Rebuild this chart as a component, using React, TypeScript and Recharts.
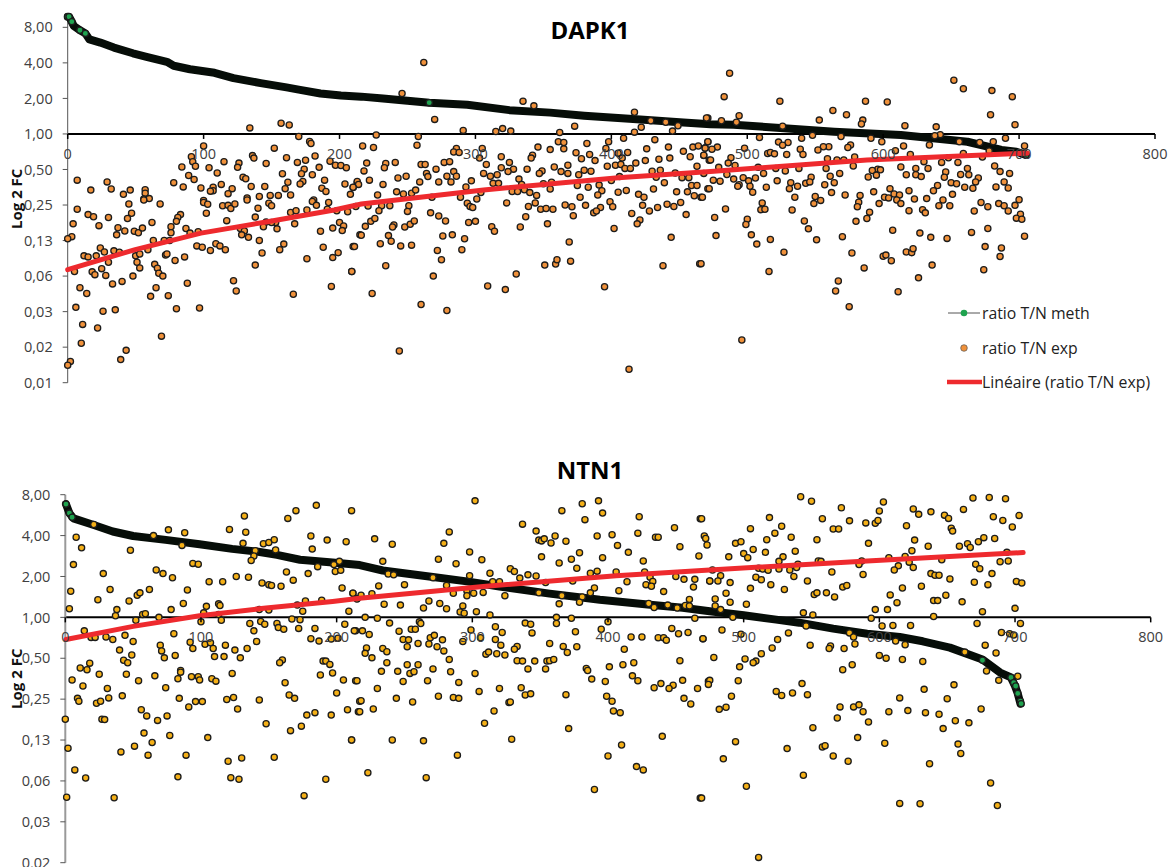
import React from "react";
import { ScatterChart, Scatter, XAxis, YAxis, ReferenceLine, Legend } from "recharts";

// All y values are log2(fold change); x is the gene rank.
type P = [number, number];

const xTicks = [0, 100, 200, 300, 400, 500, 600, 700, 800];
const yTicksTop = [-7, -6, -5, -4, -3, -2, -1, 0, 1, 2, 3];
const yTicksBottom = [-6, -5, -4, -3, -2, -1, 0, 1, 2, 3];
const legendNames = ["ratio T/N meth", "ratio T/N exp", "Linéaire (ratio T/N exp)"];

const dapkMeth: P[] = [[0,3.3],[1,3.3],[3,3.16],[4.5,3.04],[9,2.92],[13,2.83],[16,2.66],[24,2.57],[34,2.43],[48,2.27],[58,2.17],[73,2.03],[78,1.92],[90,1.82],[108,1.72],[122,1.57],[142,1.43],[161,1.31],[171,1.24],[186,1.14],[201,1.08],[216,1.05],[232,1.0],[266,.88],[294,.82],[325,.67],[355,.6],[380,.515],[416,.42],[453,.32],[473,.27],[490,.26],[527,.16],[564,.065],[613,-.03],[662,-.22],[687,-.45],[698,-.5],[705,-.59]];
const dapkGreen: P[] = [[0,3.3],[1,3.3],[3,3.16],[9,2.92],[13,2.83],[266,.88],[705,-.59]];
const dapkTrend: P[] = [[0,-3.82],[49,-3.26],[98,-2.79],[147,-2.47],[196,-2.14],[216,-1.97],[306,-1.575],[405,-1.23],[473,-1.06],[588,-.73],[706,-.54]];
const dapkExpLeft: P[] = [[134,.17],[157,.30],[163,.25],[170,-.07],[178,-.21],[179,-.27],[100,-.34],[152,-.40],[91,-.64],[136,-.61],[137,-.68],[92,-.78],[161,-.67],[182,-.62],[115,-.78],[175,-.74],[169,-.80],[126,-.82],[146,-.83],[193,-.77],[197,-.88],[201,-.89],[205,-.95],[84,-.93],[94,-.91],[104,-.95],[125,-.94],[185,-.94],[174,-.99],[110,-1.10],[158,-1.12],[172,-1.12],[180,-1.15],[7,-1.30],[29,-1.35],[89,-1.17],[93,-1.28],[129,-1.22],[131,-1.26],[173,-1.34],[189,-1.30],[162,-1.36],[204,-1.41],[213,-1.37],[78,-1.37],[17,-1.58],[32,-1.55],[46,-1.58],[41,-1.70],[57,-1.57],[57,-1.67],[85,-1.49],[98,-1.52],[107,-1.50],[107,-1.60],[105,-1.61],[113,-1.42],[121,-1.54],[118,-1.68],[135,-1.48],[145,-1.48],[171,-1.41],[160,-1.54],[164,-1.72],[187,-1.53],[190,-1.62],[208,-1.70],[210,-1.51],[132,-1.80],[141,-1.76],[149,-1.73],[155,-1.73],[56,-1.83],[60,-1.82],[100,-1.87],[181,-1.86],
[7,-2.12],[15,-2.27],[19,-2.33],[30,-2.35],[45,-1.97],[47,-2.23],[44,-2.38],[56,-1.86],[68,-1.97],[83,-2.27],[81,-2.35],[80,-2.46],[76,-2.61],[100,-1.93],[103,-1.98],[102,-2.23],[114,-2.02],[118,-2.01],[120,-2.10],[123,-1.97],[117,-2.44],[132,-1.86],[140,-2.09],[138,-2.34],[148,-1.95],[150,-2.02],[146,-2.48],[153,-2.49],[150,-2.49],[144,-2.61],[154,-2.67],[164,-2.21],[168,-2.16],[167,-2.53],[176,-2.14],[180,-1.90],[183,-2.01],[192,-1.93],[191,-2.12],[198,-2.16],[200,-2.49],[206,-2.19],[203,-2.59],[202,-2.72],[195,-2.65],[186,-2.74],[212,-2.04],[215,-2.84],[4,-2.53],[3,-2.89],[0,-2.95],[23,-2.58],[37,-2.64],[36,-2.84],[42,-2.73],[49,-2.74],[52,-2.78],[55,-2.65],[62,-2.49],[63,-3.0],[71,-3.0],[75,-3.0],[76,-2.78],[87,-2.66],[90,-2.79],[96,-2.75],[127,-2.66],[130,-2.73],[128,-2.84],[133,-2.91],[141,-3.0],[95,-3.15],[99,-3.19],[105,-3.28],[109,-3.09],[112,-3.15],[116,-3.26],[159,-3.10],[156,-3.26],[143,-3.35],[188,-3.19],[199,-3.34],[195,-3.48],[210,-3.17],[24,-3.21],[12,-3.43],[15,-3.46],[21,-3.43],[27,-3.32],[34,-3.29],[38,-3.33],[50,-3.43],[53,-3.38],[59,-3.26],[51,-3.61],[53,-3.77],[30,-3.61],[25,-3.79],[18,-3.88],[20,-3.96],[28,-3.98],[5,-3.87],[33,-4.22],[40,-4.15],[48,-4.0],[64,-3.67],[66,-3.78],[67,-3.92],[70,-4.0],[72,-3.41],[73,-3.38],[79,-3.56],[86,-3.46],[88,-4.2],[65,-4.33],[61,-4.57],[74,-4.55],[80,-4.92],[97,-4.90],[9,-4.33],[14,-4.49],[6,-4.88],[26,-4.99],[35,-4.95],[11,-5.36],[22,-5.46],[10,-5.89],[2,-6.40],[0,-6.51],[39,-6.35],[43,-6.09],[69,-5.69],[122,-4.13],[124,-4.42],[138,-3.69],[176,-3.51],[166,-4.51],[194,-4.29],[209,-3.87]];
const dapkExpMiddle: P[] = [[262,2.01],[246,1.14],[335,.92],[343,.79],[270,.41],[417,.61],[373,.22],[422,.19],[429,.37],[440,.33],[449,.23],[471,.45],[291,.10],[315,.07],[320,.15],[326,.08],[362,.04],[417,.05],[445,.08],[227,-.03],[258,-.07],[257,-.32],[217,-.34],[225,-.38],[286,-.41],[284,-.51],[288,-.52],[305,-.41],[303,-.68],[346,-.37],[355,-.44],[361,-.22],[365,-.24],[365,-.42],[382,-.27],[398,-.22],[409,-.12],[432,-.16],[442,-.37],[453,-.49],[460,-.37],[464,-.34],[469,-.39],[471,-.22],[426,-.42],[396,-.41],[412,-.52],[405,-.54],[374,-.53],[384,-.58],[378,-.70],[388,-.75],[408,-.68],[425,-.75],[435,-.71],[443,-.68],[458,-.64],[468,-.61],[472,-.74],[342,-.60],[341,-.68],[319,-.64],[325,-.80],[308,-.86],[277,-.80],[281,-.78],[260,-.86],[263,-.86],[241,-.80],[234,-.83],[220,-.82],[233,-.95],[271,-.99],[218,-1.04],[284,-1.06],[319,-.95],[328,-.99],[338,-.99],[349,-1.04],[358,-.93],[368,-.88],[363,-1.06],[380,-1.02],[385,-1.05],[397,-.91],[403,-.88],[407,-.86],[418,-.82],[410,-.97],[414,-.97],[430,-1.05],[436,-1.02],[463,-.91],[264,-1.11],[265,-1.20],[243,-1.24],[249,-1.19],[279,-1.19],[286,-1.19],[282,-1.35],[273,-1.35],[259,-1.35],[222,-1.30],[213,-1.34],[214,-1.42],[210,-1.50],[232,-1.42],[297,-1.32],[293,-1.49],[306,-1.11],[311,-1.19],[316,-1.15],[324,-1.06],[332,-1.27],[347,-1.11],[368,-1.11],[376,-1.15],[406,-1.20],[400,-1.31],[433,-1.22],[439,-1.37],[447,-1.10],[452,-1.23],[457,-1.23],[313,-1.39],[317,-1.39],[334,-1.42],[350,-1.40],[356,-1.36],[375,-1.45],[383,-1.50],[391,-1.44],[431,-1.55],[459,-1.45],[463,-1.45],[471,-1.54],[242,-1.63],[228,-1.72],[247,-1.69],[253,-1.67],[256,-1.58],[289,-1.78],[268,-1.78],[304,-1.65],[327,-1.62],[331,-1.62],[336,-1.57],[340,-1.65],[355,-1.55],[345,-1.73],[377,-1.78],[393,-1.60],[390,-1.72],[405,-1.64],[411,-1.59],[420,-1.70],[424,-1.78],[448,-1.63],[456,-1.63],[461,-1.74],[466,-1.78],[221,-2.03],[231,-2.02],[237,-2.02],[251,-2.02],[229,-2.16],[250,-2.18],[294,-1.95],[296,-2.04],[298,-2.07],[301,-1.83],[323,-1.94],[344,-1.94],[339,-2.04],[348,-2.12],[352,-2.10],[357,-2.12],[366,-2.0],[371,-2.05],[381,-2.01],[392,-2.07],[399,-1.91],[401,-2.05],[387,-2.22],[389,-2.17],[372,-2.30],[337,-2.33],[267,-2.22],[273,-2.31],[278,-2.45],[415,-2.24],[423,-2.01],[428,-2.17],[434,-2.07],[441,-1.98],[446,-2.04],[451,-1.93],[455,-2.27],[421,-2.42],[419,-2.53],[353,-2.53],[333,-2.62],[312,-2.61],[314,-2.74],[295,-2.49],[300,-2.46],[223,-2.46],[226,-2.38],[219,-2.60],[216,-2.85],[240,-2.56],[239,-2.62],[248,-2.62],[252,-2.54],[255,-2.45],[236,-2.86],[238,-3.02],[230,-3.09],[245,-3.15],[253,-3.13],[211,-3.17],[276,-2.87],[283,-2.84],[292,-2.95],[290,-3.26],[272,-3.28],[275,-3.54],[402,-2.66],[444,-2.91],[369,-3.04],[370,-3.58],[359,-3.66],[360,-3.54],[351,-3.69],[438,-3.71],[465,-3.65],[234,-3.71],[209,-3.87],[269,-4.0],[330,-3.94],[309,-4.28],[322,-4.38],[395,-4.30],[224,-4.49],[260,-4.80],[279,-4.97],[244,-6.11],[413,-6.62]];
const dapkExpRight: P[] = [[487,1.71],[483,1.05],[524,.92],[652,1.51],[659,1.27],[680,1.22],[695,1.05],[587,.92],[603,.90],[563,.66],[573,.54],[679,.54],[553,.39],[585,.39],[584,.28],[494,.51],[470,.45],[481,.37],[492,.33],[697,.26],[616,.23],[639,.20],[526,.22],[642,-.02],[548,-.04],[569,-.07],[509,-.10],[540,-.12],[591,-.12],[638,-.05],[690,-.12],[599,-.22],[681,-.22],[656,-.22],[671,-.24],[704,-.34],[471,-.22],[523,-.23],[530,-.24],[526,-.32],[478,-.37],[474,-.43],[469,-.40],[498,-.40],[560,-.36],[556,-.36],[552,-.45],[539,-.43],[576,-.31],[574,-.38],[615,-.34],[609,-.47],[634,-.31],[468,-.60],[515,-.55],[517,-.52],[520,-.56],[529,-.58],[541,-.58],[620,-.58],[659,-.55],[678,-.48],[704,-.54],[488,-.67],[473,-.73],[579,-.65],[559,-.70],[566,-.73],[571,-.73],[673,-.65],[643,-.80],[648,-.67],[655,-.80],[630,-.78],[491,-.89],[486,-.82],[479,-.94],[508,-.94],[521,-.97],[538,-.97],[558,-.97],[578,-.90],[613,-.93],[624,-.97],[633,-.97],[662,-.97],[682,-.90],[686,-1.06],[693,-1.11],[528,-1.04],[512,-1.11],[468,-1.11],[485,-1.14],[497,-1.23],[506,-1.24],[568,-1.11],[561,-1.19],[547,-1.22],[596,-.99],[592,-1.03],[598,-1.01],[595,-1.16],[589,-1.21],[617,-1.15],[624,-1.15],[628,-1.20],[646,-1.07],[645,-1.22],[657,-1.14],[663,-1.15],[670,-1.24],[475,-1.30],[480,-1.33],[490,-1.27],[501,-1.32],[522,-1.32],[532,-1.37],[543,-1.39],[546,-1.35],[557,-1.43],[564,-1.37],[650,-1.37],[654,-1.40],[668,-1.35],[689,-1.35],[494,-1.43],[493,-1.47],[502,-1.47],[514,-1.50],[531,-1.54],[537,-1.47],[472,-1.54],[605,-1.54],[640,-1.45],[637,-1.60],[660,-1.50],[666,-1.53],[683,-1.49],[692,-1.52],[504,-1.64],[562,-1.65],[593,-1.63],[619,-1.60],[608,-1.69],[612,-1.72],[651,-1.70],[467,-1.78],[535,-1.78],[550,-1.76],[572,-1.72],[583,-1.73],[601,-1.78],[604,-1.80],[610,-1.86],[623,-1.83],[632,-1.82],[644,-1.86],[700,-1.85],[511,-1.94],[554,-1.87],[549,-1.96],[582,-1.92],[581,-2.05],[597,-1.96],[613,-1.96],[641,-2.02],[649,-2.02],[672,-1.93],[677,-2.05],[685,-1.96],[689,-2.02],[697,-2.01],[484,-2.11],[510,-2.13],[513,-2.12],[533,-2.14],[619,-2.16],[629,-2.13],[631,-2.22],[590,-2.20],[667,-2.17],[692,-2.17],[701,-2.26],[476,-2.35],[500,-2.40],[499,-2.55],[542,-2.45],[545,-2.67],[580,-2.46],[588,-2.38],[698,-2.37],[702,-2.40],[477,-2.86],[503,-2.84],[507,-3.10],[517,-2.97],[551,-2.98],[570,-2.89],[607,-2.71],[627,-2.79],[635,-2.91],[647,-2.94],[665,-2.77],[677,-2.66],[704,-2.88],[527,-3.33],[577,-3.35],[617,-3.32],[621,-3.34],[622,-3.23],[600,-3.44],[602,-3.41],[606,-3.57],[675,-3.17],[687,-3.21],[686,-3.45],[466,-3.65],[516,-3.87],[586,-3.77],[636,-3.69],[674,-3.82],[626,-4.05],[567,-4.14],[565,-4.42],[611,-4.44],[575,-4.86],[496,-5.80]];

const ntnMeth: P[] = [[.5,2.77],[3,2.55],[6,2.42],[21,2.26],[35,2.1],[50,1.99],[74,1.895],[99,1.79],[123,1.675],[141,1.61],[156,1.53],[173,1.41],[197,1.34],[217,1.28],[234,1.146],[271,.985],[296,.88],[320,.756],[357,.58],[394,.43],[431,.31],[455,.235],[475,.15],[500,.05],[524,-.056],[541,-.13],[566,-.275],[591,-.4],[615,-.48],[632,-.585],[652,-.74],[676,-1.03],[689,-1.35],[697,-1.47],[700,-1.68],[702,-1.86],[704,-2.11]];
const ntnGreen: P[] = [[.5,2.77],[3,2.55],[5,2.45],[676,-1.05],[697,-1.47],[699,-1.6],[700.5,-1.68],[702,-1.86],[704,-2.05],[704.5,-2.11]];
const ntnTrend: P[] = [[.5,-.54],[50,-.22],[99,.04],[148,.23],[197,.39],[217,.47],[308,.756],[406,1.017],[475,1.16],[591,1.38],[706,1.585]];
const ntnExpLeft: P[] = [[132,2.48],[185,2.74],[170,2.61],[164,2.42],[211,2.61],[121,2.15],[133,2.08],[76,2.14],[88,2.07],[65,2.0],[21,2.27],[8,1.96],[12,1.70],[48,1.64],[131,1.81],[146,1.80],[150,1.83],[154,1.90],[86,1.76],[181,1.99],[193,1.89],[207,1.85],[182,1.67],[155,1.65],[140,1.63],[139,1.50],[137,1.39],[6,1.29],[94,1.32],[98,1.30],[198,1.29],[202,1.37],[186,1.24],[67,1.16],[72,1.07],[28,1.07],[79,.97],[199,1.12],[203,1.15],[163,1.11],[179,1.07],[126,1.0],[135,.98],[168,.91],[106,.87],[116,.87],[145,.84],[150,.80],[152,.78],[159,.76],[4,.64],[33,.68],[62,.68],[90,.67],[204,.72],[212,.59],[24,.43],[47,.40],[53,.54],[55,.60],[87,.34],[113,.33],[114,.29],[104,.27],[177,.40],[189,.42],[215,.46],[171,.30],[3,.21],[38,.19],[78,.19],[143,.19],[150,.18],[175,.15],[209,.15],[37,.04],[57,.07],[59,.09],[69,0],[102,.11],[113,.07],[52,-.07],[100,-.11],[115,-.07],[167,-.04],[173,-.06],[144,-.10],[147,-.17],[136,-.15],[156,-.15],[157,-.25],[161,-.29],[172,-.27],[184,-.27],[206,-.17],[214,-.33],[14,-.33],[139,-.33],[80,-.40],[19,-.49],[22,-.49],[30,-.48],[35,-.54],[44,-.44],[181,-.52],[187,-.58],[196,-.53],[201,-.51],[50,-.59],[141,-.59],[92,-.61],[70,-.68],[103,-.66],[107,-.62],[118,-.68],[71,-.82],[94,-.76],[109,-.76],[125,-.80],[134,-.76],[40,-.80],[49,-.92],[73,-.99],[81,-.93],[110,-.96],[117,-.96],[129,-.99],[43,-1.05],[46,-1.11],[18,-1.12],[11,-1.24],[16,-1.28],[160,-1.04],[158,-1.11],[190,-1.07],[192,-1.07],[195,-1.15],[85,-1.30],
[25,-1.39],[5,-1.53],[13,-1.68],[31,-1.74],[32,-1.97],[45,-1.39],[54,-1.55],[66,-1.43],[74,-1.72],[83,-1.50],[85,-1.34],[93,-1.45],[98,-1.45],[99,-1.53],[108,-1.50],[111,-1.56],[123,-1.37],[162,-1.60],[188,-1.41],[197,-1.36],[205,-1.53],[214,-1.55],[200,-1.85],[165,-1.90],[169,-1.98],[42,-1.92],[84,-1.98],[119,-2.01],[124,-1.96],[143,-2.02],[9,-1.98],[10,-2.05],[23,-2.10],[26,-2.05],[96,-2.06],[101,-2.06],[217,-2.05],[91,-2.19],[127,-2.24],[56,-2.26],[60,-2.41],[68,-2.52],[75,-2.41],[208,-2.26],[216,-2.31],[196,-2.39],[184,-2.33],[178,-2.39],[0,-2.49],[27,-2.49],[29,-2.50],[148,-2.60],[174,-2.66],[166,-2.77],[58,-2.83],[77,-2.89],[64,-3.06],[105,-2.94],[211,-3.0],[2,-3.20],[41,-3.29],[51,-3.15],[61,-3.37],[89,-3.37],[130,-3.44],[120,-3.52],[154,-3.42],[7,-3.73],[15,-3.93],[83,-3.90],[122,-3.92],[128,-3.96],[192,-3.96],[1,-4.40],[36,-4.41],[176,-4.36]];
const ntnExpMiddle: P[] = [[302,2.85],[381,2.78],[393,2.85],[366,2.61],[396,2.55],[383,2.39],[423,2.46],[468,2.41],[337,2.28],[347,2.11],[283,2.09],[228,1.92],[241,1.79],[279,1.81],[349,1.89],[351,1.87],[353,1.92],[358,1.82],[361,1.99],[369,1.86],[392,1.99],[403,2.02],[407,1.76],[422,2.06],[435,1.96],[437,1.96],[449,2.19],[453,1.73],[471,1.99],[472,1.93],[473,1.77],[298,1.60],[415,1.59],[379,1.58],[467,1.50],[396,1.46],[351,1.48],[373,1.42],[275,1.42],[307,1.41],[234,1.37],[288,1.31],[364,1.33],[426,1.38],[377,1.20],[328,1.19],[331,1.12],[313,1.08],[238,1.06],[242,1.04],[341,1.04],[347,1.01],[387,1.08],[392,1.13],[406,1.11],[427,1.11],[298,1.02],[271,.97],[335,.96],[450,1.0],[456,.93],[464,.93],[431,.98],[354,.85],[315,.87],[320,.87],[374,.89],[414,.87],[433,.88],[475,.89],[231,.77],[250,.80],[281,.78],[428,.80],[432,.76],[463,.74],[390,.72],[408,.65],[441,.63],[387,.60],[212,.59],[286,.59],[296,.65],[301,.59],[308,.61],[349,.60],[218,.54],[226,.58],[296,.53],[324,.53],[366,.53],[215,.45],[381,.50],[460,.44],[268,.40],[276,.34],[235,.32],[247,.30],[264,.23],[281,.21],[293,.28],[364,.33],[379,.37],[430,.34],[444,.30],[434,.24],[451,.23],[457,.29],[460,.28],[291,.13],[294,.10],[303,.14],[313,.06],[221,0],[230,-.02],[362,0],[373,-.02],[464,-.02],[239,-.14],[261,-.11],[262,-.15],[339,-.14],[343,-.17],[362,-.15],[400,-.11],[317,-.23],[395,-.29],[447,-.27],[213,-.33],[219,-.33],[224,-.42],[246,-.34],[255,-.29],[258,-.29],[299,-.31],[322,-.37],[344,-.38],[376,-.35],[452,-.40],[459,-.37],[269,-.50],[272,-.44],[278,-.55],[249,-.54],[253,-.55],[306,-.50],[317,-.54],[417,-.48],[425,-.48],[437,-.50],[441,-.50],[443,-.56],[470,-.52],[293,-.59],[260,-.64],[268,-.65],[252,-.72],[274,-.72],[321,-.68],[357,-.64],[333,-.71],[331,-.78],[367,-.71],[377,-.72],[222,-.75],[234,-.76],[237,-.84],[221,-.88],[279,-.82],[370,-.86],[412,-.78],[310,-.90],[312,-.85],[318,-.89],[324,-.92],[226,-.99],[283,-1.03],[237,-1.11],[333,-1.06],[337,-1.07],[346,-1.07],[355,-1.07],[357,-1.06],[360,-1.03],[453,-1.06],[419,-1.11],[252,-1.16],[260,-1.16],[411,-1.16],[401,-1.21],[384,-1.25],[271,-1.26],
[233,-1.32],[245,-1.32],[254,-1.37],[257,-1.33],[284,-1.33],[302,-1.37],[341,-1.26],[354,-1.26],[385,-1.30],[418,-1.43],[215,-1.55],[249,-1.57],[267,-1.55],[290,-1.59],[388,-1.51],[398,-1.57],[422,-1.55],[439,-1.62],[448,-1.66],[445,-1.74],[455,-1.54],[474,-1.56],[434,-1.72],[466,-1.74],[230,-1.74],[305,-1.81],[320,-1.74],[336,-1.72],[339,-1.90],[343,-1.87],[369,-1.89],[275,-1.93],[286,-1.96],[290,-1.98],[399,-1.93],[218,-2.04],[244,-1.98],[256,-2.07],[327,-2.08],[328,-2.07],[403,-2.05],[456,-1.98],[461,-2.12],[217,-2.31],[227,-2.24],[316,-2.29],[404,-2.29],[409,-2.33],[309,-2.59],[371,-2.72],[440,-2.91],[211,-3.0],[241,-3.0],[264,-3.02],[329,-2.98],[410,-3.12],[289,-3.37],[400,-3.39],[421,-3.65],[426,-3.73],[223,-3.80],[266,-3.92],[390,-4.21],[468,-4.42]];
const ntnExpRight: P[] = [[542,2.95],[550,2.84],[572,2.68],[603,2.82],[600,2.60],[625,2.65],[629,2.52],[638,2.58],[648,2.50],[651,2.42],[662,2.64],[669,2.92],[681,2.93],[693,2.90],[703,2.49],[684,2.46],[691,2.37],[698,2.21],[519,2.44],[558,2.41],[578,2.36],[590,2.31],[597,2.30],[599,2.37],[620,2.24],[469,2.41],[528,2.23],[505,2.17],[566,2.16],[570,2.16],[653,2.18],[654,2.11],[523,2.06],[494,1.81],[498,1.85],[517,1.90],[535,1.96],[554,1.90],[626,1.89],[592,1.81],[673,1.85],[677,1.95],[685,1.93],[665,1.80],[659,1.74],[667,1.71],[636,1.74],[507,1.66],[500,1.56],[503,1.46],[516,1.59],[538,1.62],[624,1.63],[489,1.48],[529,1.48],[526,1.37],[694,1.59],[540,1.30],[555,1.38],[557,1.37],[587,1.38],[607,1.46],[619,1.49],[646,1.41],[689,1.36],[695,1.38],[622,1.35],[585,1.29],[671,1.30],[539,1.22],[614,1.26],[477,1.16],[511,1.20],[514,1.18],[518,1.15],[526,1.18],[534,1.16],[611,1.16],[625,1.22],[674,1.19],[565,1.11],[683,1.07],[483,1.02],[588,1.05],[638,1.07],[641,1.03],[644,1.03],[509,.98],[513,.92],[537,1.0],[652,.94],[475,.89],[481,.89],[547,.89],[490,.85],[520,.80],[670,.86],[680,.80],[701,.88],[705,.84],[505,.71],[530,.68],[573,.74],[576,.78],[617,.72],[631,.76],[487,.59],[552,.56],[554,.60],[561,.60],[608,.55],[649,.54],[567,.50],[479,.45],[490,.37],[613,.36],[640,.41],[643,.41],[661,.38],[479,.28],[502,.32],[483,.19],[597,.19],[606,.19],[700,.22],[676,.14],[544,.11],[551,.06],[492,0],[594,-.02],[640,.02],[546,-.21],[602,-.21],[610,-.20],[623,-.20],[672,-.15],[704,-.15],[484,-.31],[498,-.41],[533,-.38],[578,-.38],[581,-.48],[690,-.37],[696,-.40],[699,-.43],[470,-.52],[525,-.54],[612,-.58],[582,-.65],[619,-.67],[549,-.68],[564,-.70],[563,-.76],[574,-.76],[521,-.75],[678,-.68],[686,-.87],[513,-.89],[663,-.85],[478,-.98],[501,-1.02],[600,-.93],[605,-1.0],[617,-1.03],[632,-1.08],[509,-1.07],[507,-1.11],[580,-1.16],[497,-1.21],[573,-1.28],
[679,-1.31],[702,-1.44],[688,-1.54],[655,-1.65],[633,-1.76],[650,-1.99],[615,-1.97],[475,-1.54],[474,-1.64],[496,-1.55],[491,-1.93],[524,-1.81],[528,-1.91],[536,-1.85],[543,-1.62],[547,-1.89],[571,-2.19],[581,-2.19],[585,-2.14],[588,-2.31],[607,-2.31],[621,-2.28],[634,-2.33],[644,-2.37],[675,-2.24],[482,-2.25],[487,-2.20],[569,-2.46],[592,-2.56],[656,-2.53],[666,-2.58],[551,-2.70],[647,-2.72],[494,-3.04],[584,-2.94],[604,-3.08],[658,-3.10],[532,-3.21],[558,-3.17],[560,-3.14],[485,-3.46],[566,-3.39],[577,-3.52],[637,-3.58],[660,-3.33],[544,-3.86],[502,-4.13],[682,-4.05],[469,-4.42],[615,-4.55],[630,-4.56],[687,-4.60],[511,-5.87]];

const FONT = '"Open Sans", sans-serif';
const toRows = (pts: P[]) => pts.map(([x, y]) => ({ x, y }));
const formatFold = (v: number) => Math.pow(2, v).toFixed(2).replace(".", ",");

const Dot = (fill: string) => (props: any) => (
  <circle cx={props.cx} cy={props.cy} r={3.1} fill={fill} stroke="#1c1c1c" strokeWidth={1.3} />
);
const NoDot = () => <g />;

function LegendBox() {
  const rowStyle: React.CSSProperties = { display: "flex", alignItems: "center", height: 34.5, whiteSpace: "nowrap" };
  return (
    <div style={{ fontFamily: FONT, fontSize: 15.8, color: "#222" }}>
      <div style={rowStyle}>
        <svg width={35} height={14}><line x1={1} x2={33} y1={7} y2={7} stroke="#555" /><circle cx={17} cy={7} r={3.3} fill="#1fa34f" /></svg>
        {legendNames[0]}
      </div>
      <div style={rowStyle}>
        <svg width={35} height={14}><circle cx={17} cy={7} r={3.3} fill="#F0913A" stroke="#555" strokeWidth={0.7} /></svg>
        {legendNames[1]}
      </div>
      <div style={rowStyle}>
        <svg width={35} height={14}><line x1={0} x2={35} y1={7} y2={7} stroke="#EE2A2E" strokeWidth={4.5} /></svg>
        {legendNames[2]}
      </div>
    </div>
  );
}

type PanelProps = {
  title: string; titleTop: number; top: number; height: number;
  plotLeft: number; plotRight: number; plotTop: number; plotBottom: number;
  domain: [number, number]; yTicks: number[]; axisColor: string; axisWidth: number;
  meth: P[]; green: P[]; trend: P[]; exp: P[]; expFill: string; withLegend: boolean;
};

function Panel(p: PanelProps) {
  const crossY = p.plotTop + (p.domain[1] / (p.domain[1] - p.domain[0])) * (p.plotBottom - p.plotTop) - p.top;
  const XTick = (t: any) => (
    <g>
      <line x1={t.x} x2={t.x} y1={crossY} y2={crossY + 5} stroke="#000" strokeWidth={1.5} />
      <text x={t.x} y={crossY + 25} textAnchor="middle" fontSize={14.5} fontFamily={FONT} fill="#404040">{t.payload.value}</text>
    </g>
  );
  return (
    <div style={{ position: "absolute", left: 0, top: p.top, width: 1172, height: p.height }}>
      <div style={{ position: "absolute", left: 0, width: 1180, top: p.titleTop - p.top, textAlign: "center", fontFamily: FONT, fontWeight: 700, fontSize: 24, lineHeight: "32px", color: "#000", zIndex: 2 }}>{p.title}</div>
      <ScatterChart
        width={1172}
        height={p.height}
        margin={{ left: 0, right: 1172 - p.plotRight, top: p.plotTop - p.top, bottom: p.top + p.height - p.plotBottom - 1 }}
      >
        <XAxis type="number" dataKey="x" domain={[0, 800]} ticks={xTicks} interval={0} height={1} axisLine={false} tickLine={false} tick={XTick} />
        <YAxis
          type="number" dataKey="y" domain={p.domain} ticks={p.yTicks} interval={0} width={p.plotLeft}
          tickFormatter={formatFold} tickSize={5} tickMargin={10}
          axisLine={{ stroke: p.axisColor, strokeWidth: p.axisWidth }}
          tickLine={{ stroke: "#555" }}
          tick={{ fontSize: 14.5, fontFamily: FONT, fill: "#404040" }}
          label={{ value: "Log 2 FC", angle: -90, position: "insideLeft", offset: 17, style: { fontFamily: FONT, fontWeight: 700, fontSize: 15, fill: "#111", textAnchor: "middle" } }}
        />
        <ReferenceLine y={0} stroke="#000" strokeWidth={2} />
        <Scatter name={legendNames[0]} data={toRows(p.meth)} isAnimationActive={false} shape={NoDot} line={{ stroke: "#060d08", strokeWidth: 8, strokeLinecap: "round", strokeLinejoin: "round" }} lineJointType="linear" />
        <Scatter name={legendNames[0] + " points"} data={toRows(p.green)} isAnimationActive={false} shape={Dot("#1fa34f")} />
        <Scatter name={legendNames[1]} data={toRows(p.exp)} isAnimationActive={false} shape={Dot(p.expFill)} />
        <Scatter name={legendNames[2]} data={toRows(p.trend)} isAnimationActive={false} shape={NoDot} line={{ stroke: "#EE2A2E", strokeWidth: 5, strokeLinecap: "round" }} lineJointType="linear" />
        {p.withLegend && (
          <Legend layout="vertical" align="center" verticalAlign="middle" content={<LegendBox />} wrapperStyle={{ left: 947, top: 296, width: 220, height: 104 }} />
        )}
      </ScatterChart>
    </div>
  );
}

export default function App() {
  return (
    <div style={{ position: "absolute", left: 0, top: 0, width: 1172, height: 867, overflow: "hidden", background: "#fff" }}>
      <Panel title="DAPK1" titleTop={14} top={0} height={400} plotLeft={67.7} plotRight={1155} plotTop={14.9} plotBottom={382.7}
        domain={[-7, 3.35]} yTicks={yTicksTop} axisColor="#555" axisWidth={1}
        meth={dapkMeth} green={dapkGreen} trend={dapkTrend} exp={[...dapkExpLeft, ...dapkExpMiddle, ...dapkExpRight]} expFill="#F0913A" withLegend />
      <Panel title="NTN1" titleTop={454} top={440} height={427} plotLeft={65.3} plotRight={1150.7} plotTop={494.7} plotBottom={862.7}
        domain={[-6, 3]} yTicks={yTicksBottom} axisColor="#999" axisWidth={2}
        meth={ntnMeth} green={ntnGreen} trend={ntnTrend} exp={[...ntnExpLeft, ...ntnExpMiddle, ...ntnExpRight]} expFill="#F5B017" withLegend={false} />
    </div>
  );
}
